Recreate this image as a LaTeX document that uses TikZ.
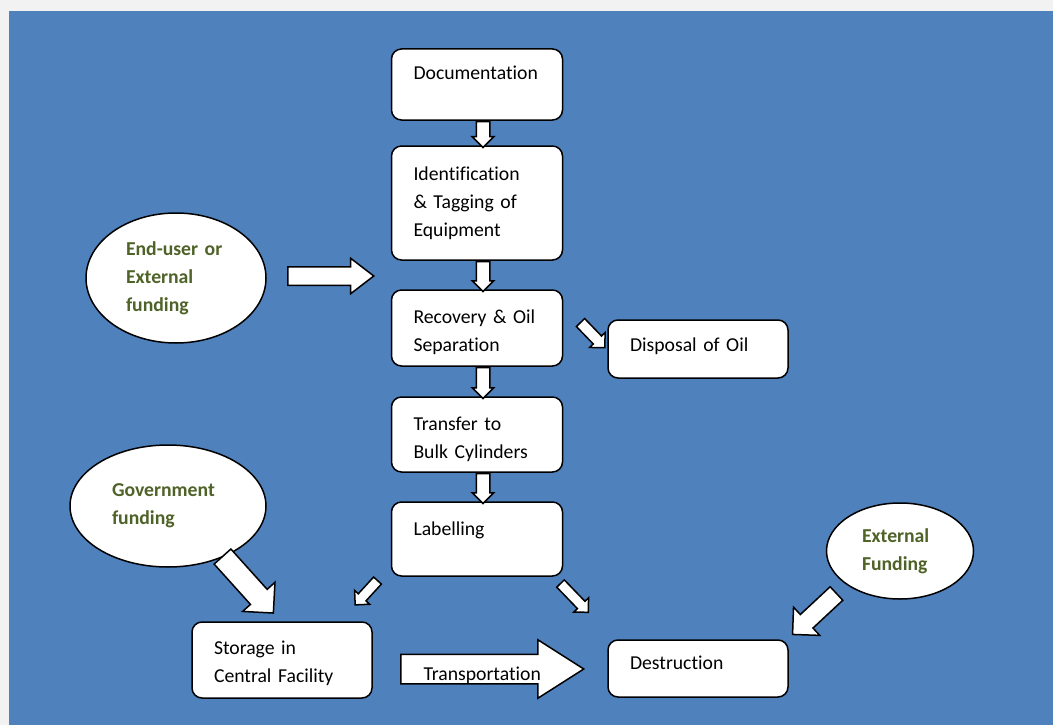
\documentclass[tikz,border=0pt]{standalone}
\usepackage{fontspec}
\setmainfont{Carlito}[Ligatures={NoCommon, NoContextual}, WordSpace=0.9]
\usetikzlibrary{shapes.geometric, shapes.arrows, positioning, calc}
\definecolor{blue1}{RGB}{79, 129, 189}
\definecolor{green1}{RGB}{79, 98, 40}
\definecolor{gray1}{RGB}{242, 242, 242}

\begin{document}
\begin{tikzpicture}[x=1pt, y=-1pt,
    box/.style={rectangle, draw, rounded corners=10pt, line width=1.5pt, fill=white, align=left, inner xsep=22pt, inner ysep=0pt, text width=127pt, font=\fontsize{19.7}{28}\selectfont},
    wide/.style={box, text width=136pt},
    fund/.style={ellipse, draw, line width=1.5pt, fill=white, inner sep=0pt, align=left, text=green1, font=\fontsize{19.7}{28}\selectfont\bfseries},
    barrow/.style={single arrow, draw, fill=white, line width=1.5pt, inner xsep=0pt, anchor=tail, single arrow head extend=#1},
    barrow/.default=5pt]
    % background
    \fill[gray1] (0,0) rectangle (1053,725);
    \fill[blue1] (9,11) rectangle (1053,725);
    % main column
    \node[box, minimum height=71pt, text depth=24pt] (doc) at (477,84.5) {Documentation};
    \node[box, minimum height=114pt, below=24.5pt of doc] (ident) {Identification\\ \& Tagging of\\ Equipment};
    \node[box, minimum height=76pt, below=28.5pt of ident, text height=22pt] (recov) {Recovery \& Oil\\ Separation};
    \node[box, minimum height=75pt, below=29.5pt of recov, text height=24pt] (trans) {Transfer to\\ Bulk Cylinders};
    \node[box, minimum height=74pt, below=28.5pt of trans, text depth=21pt] (label) {Labelling};
    % side boxes
    \node[wide, minimum height=58pt, text depth=8pt] (disp) at (698,349) {Disposal of Oil};
    \node[wide, minimum height=76pt, text height=21pt] (stor) at (282,660) {Storage in\\ Central Facility};
    \node[wide, minimum height=57pt, text depth=12pt] (destr) at (698,668.5) {Destruction};
    % funding
    \node[fund, minimum width=180pt, minimum height=130pt, text width=100pt] (enduser) at (176,278) {End-user or\\ External\\ funding};
    \node[fund, minimum width=196pt, minimum height=122pt, text width=112pt] (gov) at (168,506) {Government\\ funding};
    \node[fund, minimum width=147pt, minimum height=96pt, text width=76pt] (ext) at (900,551) {External\\ Funding};
    % block arrows
    \node[barrow=4pt, inner ysep=6pt, minimum height=26pt, rotate=-90] (a1) at ([xshift=6pt]doc.south) {};
    \node[barrow=4pt, inner ysep=6pt, minimum height=30pt, rotate=-90] (a2) at ([xshift=6pt]ident.south) {};
    \node[barrow=4pt, inner ysep=6pt, minimum height=31pt, rotate=-90] (a3) at ([xshift=6pt]recov.south) {};
    \node[barrow=4pt, inner ysep=6pt, minimum height=30pt, rotate=-90] (a4) at ([xshift=6pt]trans.south) {};
    \node[barrow=8.5pt, inner ysep=8.5pt, minimum height=86pt, single arrow tip angle=75] (a5) at (287,276) {};
    \node[barrow, inner ysep=5pt, minimum height=35pt, rotate=-46] (a6) at (580,322) {};
    \node[barrow=10.5pt, inner ysep=10.5pt, minimum height=76pt, rotate=-48] (a7) at (222,556) {};
    \node[barrow, inner ysep=4.5pt, minimum height=33pt, rotate=-132.5] (a8) at (378,580) {};
    \node[barrow, inner ysep=4.5pt, minimum height=40pt, rotate=-46] (a9) at (560,583) {};
    \node[barrow=10pt, inner ysep=8.5pt, minimum height=60pt, rotate=-137] (a10) at (837,593) {};
    \node[barrow=14.5pt, inner ysep=14pt, minimum height=183pt, single arrow tip angle=65] (a11) at (400,669) {};
    \node[anchor=base west, font=\fontsize{19.7}{28}\selectfont] (transp) at (420,680) {Transportation};
\end{tikzpicture}
\end{document}
